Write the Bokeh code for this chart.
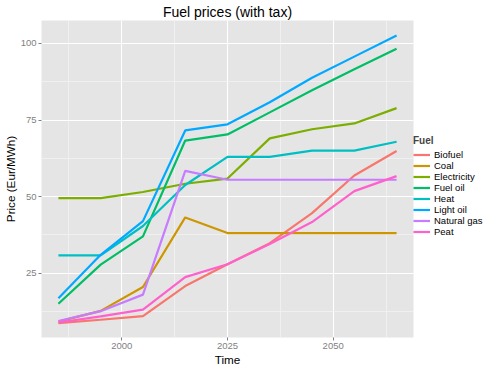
from bokeh.plotting import figure
from bokeh.models import Range1d, FixedTicker, Legend, LegendItem
from bokeh.embed import file_html
from bokeh.resources import INLINE

years = [1985, 1995, 2005, 2015, 2025, 2035, 2045, 2055, 2065]
fuels = ["Biofuel", "Coal", "Electricity", "Fuel oil", "Heat", "Light oil", "Natural gas", "Peat"]
biofuel = [8.7, 9.8, 11.0, 20.8, 27.9, 34.8, 44.6, 56.9, 64.9]
coal = [9.2, 12.7, 20.5, 43.2, 38.1, 38.1, 38.1, 38.1, 38.1]
electricity = [49.5, 49.5, 51.5, 54.2, 55.9, 69.0, 72.0, 73.9, 78.9]
fuel_oil = [15.0, 27.8, 37.0, 68.3, 70.3, 77.5, 84.7, 91.6, 98.3]
heat = [30.8, 30.8, 40.4, 53.8, 63.0, 63.0, 65.0, 65.0, 67.9]
light_oil = [16.8, 31.0, 42.0, 71.6, 73.6, 80.8, 88.8, 95.7, 102.6]
natural_gas = [9.4, 12.6, 18.0, 58.4, 55.5, 55.5, 55.5, 55.5, 55.5]
peat = [8.9, 10.9, 13.1, 23.7, 27.9, 34.5, 41.7, 51.8, 56.7]
series = [biofuel, coal, electricity, fuel_oil, heat, light_oil, natural_gas, peat]
colors = ["#F8766D", "#CD9600", "#7CAE00", "#00BE67", "#00BFC4", "#00A9FF", "#C77CFF", "#FF61CC"]
x_ticks = [2000, 2025, 2050]
y_ticks = [25, 50, 75, 100]

FONT = "Liberation Sans"
FW, FH = 372, 317

p = figure(frame_width=FW, frame_height=FH, output_backend="svg", toolbar_location=None,
           x_range=Range1d(1981, 2069), y_range=Range1d(4.0, 107.5),
           min_border_left=36, min_border_right=0, min_border_top=0, min_border_bottom=0,
           background_fill_color="#E5E5E5", border_fill_color="white",
           outline_line_color=None)

p.title.text = "Fuel prices (with tax)"
p.title.align = "center"
p.title.text_font = FONT
p.title.text_font_size = "14px"
p.title.text_font_style = "normal"
p.title.text_color = "black"
p.title.standoff = 2

p.xaxis.ticker = FixedTicker(ticks=x_ticks)
p.yaxis.ticker = FixedTicker(ticks=y_ticks)
p.xgrid.ticker = FixedTicker(ticks=x_ticks, minor_ticks=[1987.5, 2012.5, 2037.5, 2062.5])
p.ygrid.ticker = FixedTicker(ticks=y_ticks, minor_ticks=[12.5, 37.5, 62.5, 87.5])

for g in (p.xgrid, p.ygrid):
    g.grid_line_color = "white"
    g.grid_line_width = 1.1
    g.minor_grid_line_color = "#F2F2F2"
    g.minor_grid_line_width = 0.8

for ax in (p.xaxis, p.yaxis):
    ax.axis_line_color = None
    ax.major_tick_line_color = "#7F7F7F"
    ax.major_tick_out = 3
    ax.major_tick_in = 0
    ax.minor_tick_line_color = None
    ax.major_label_text_color = "#7F7F7F"
    ax.major_label_text_font = FONT
    ax.major_label_text_font_size = "9.5px"
    ax.major_label_standoff = 2
    ax.axis_label_text_font = FONT
    ax.axis_label_text_font_size = "11.7px"
    ax.axis_label_text_font_style = "normal"
    ax.axis_label_text_color = "black"
    ax.axis_label_standoff = 1

p.xaxis.axis_label = "Time"
p.yaxis.axis_label = "Price (Eur/MWh)"

items = []
for name, vals, col in zip(fuels, series, colors):
    r = p.line(years, vals, line_color=col, line_width=2.2)
    items.append(LegendItem(label=name, renderers=[r]))

legend = Legend(items=items, title="Fuel", location=(0, 100),
                title_text_font=FONT, title_text_font_size="10px", title_text_font_style="bold",
                label_text_font=FONT, label_text_font_size="9.5px", label_text_color="black",
                glyph_width=17, glyph_height=11, label_height=11, spacing=0,
                label_standoff=4, padding=2, margin=0, title_standoff=3,
                border_line_color=None, background_fill_alpha=0)
p.add_layout(legend, "right")

open("out.html", "w").write(file_html(p, INLINE))
